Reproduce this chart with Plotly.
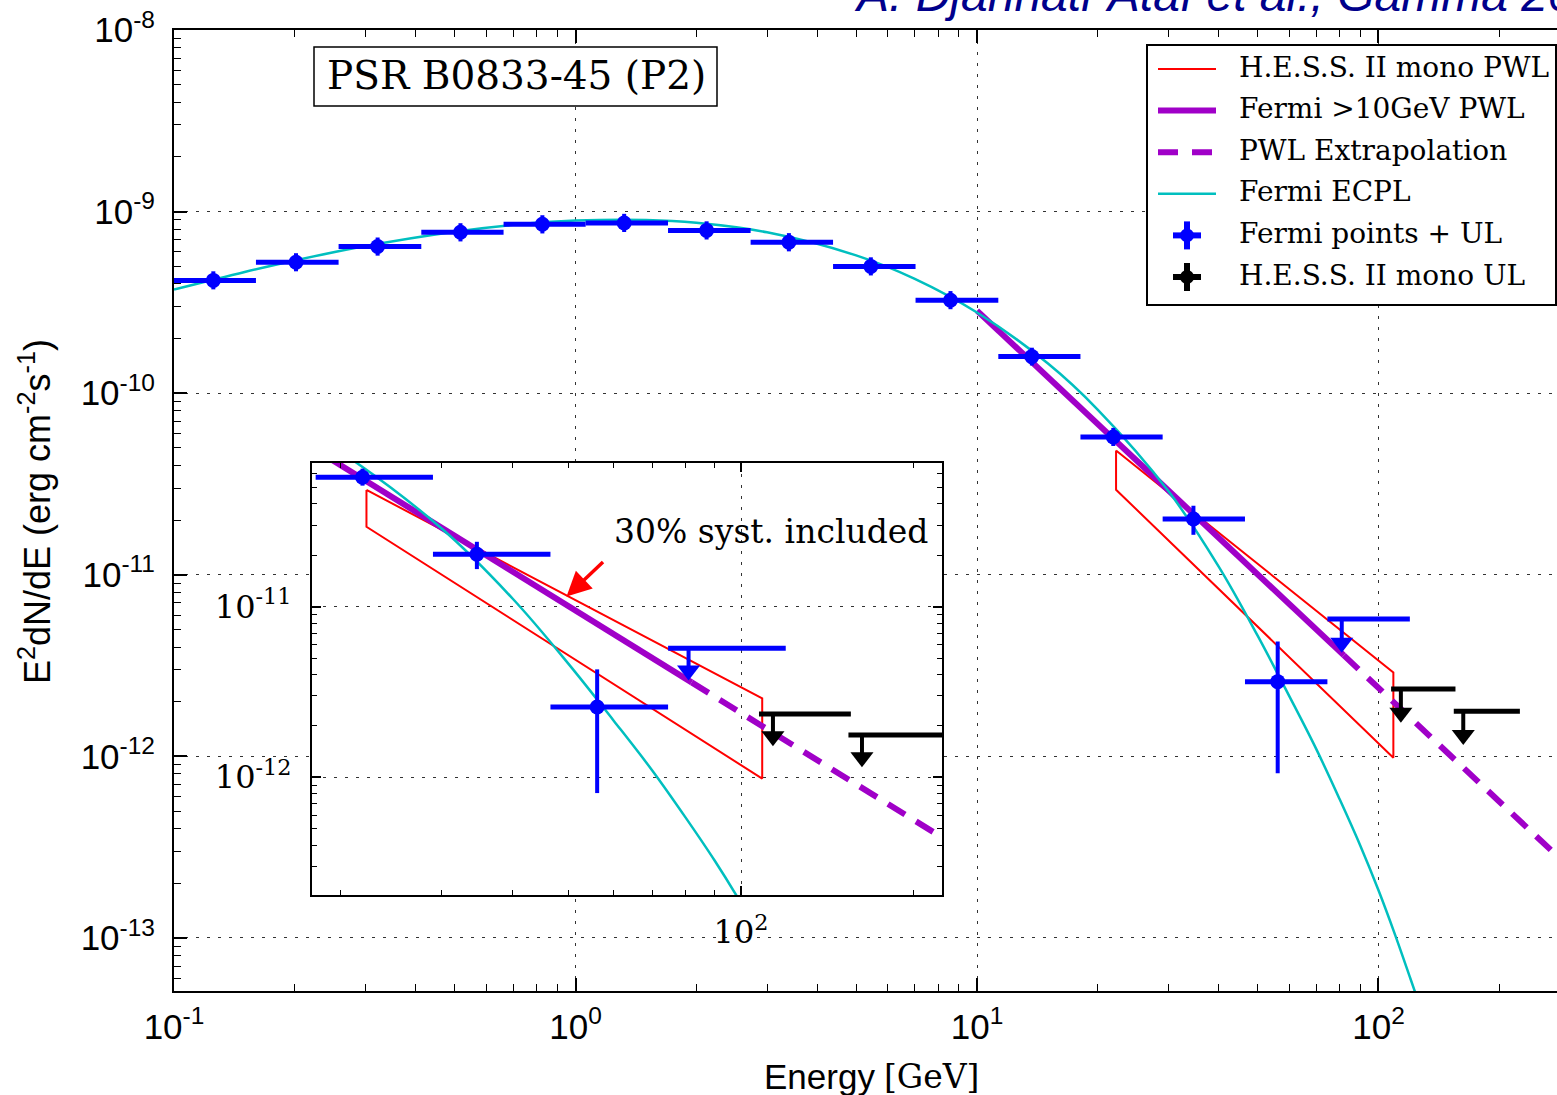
import math
import plotly.graph_objects as go

# ---------------------------------------------------------------------------
# Data
# ---------------------------------------------------------------------------
# Fermi-LAT spectral points: bin centre, bin edges [GeV], E^2 dN/dE and 1-sigma range
fermi_e = [0.1253, 0.2013, 0.3215, 0.517, 0.827, 1.322, 2.121, 3.40, 5.44, 8.59, 13.7, 21.85, 34.6, 56.1]
fermi_e_lo = [0.100, 0.160, 0.257, 0.413, 0.662, 1.06, 1.70, 2.73, 4.38, 7.03, 11.3, 18.1, 29.0, 46.5]
fermi_e_hi = [0.160, 0.257, 0.413, 0.662, 1.06, 1.70, 2.73, 4.38, 7.03, 11.3, 18.1, 29.0, 46.5, 74.6]
fermi_f = [4.18e-10, 5.26e-10, 6.42e-10, 7.69e-10, 8.51e-10, 8.66e-10, 7.88e-10,
           6.78e-10, 4.99e-10, 3.25e-10, 1.59e-10, 5.74e-11, 2.03e-11, 2.58e-12]
fermi_f_hi = [4.69e-10, 5.90e-10, 7.20e-10, 8.63e-10, 9.55e-10, 9.72e-10, 8.84e-10,
              7.61e-10, 5.60e-10, 3.65e-10, 1.78e-10, 6.44e-11, 2.40e-11, 4.29e-12]
fermi_f_lo = [3.73e-10, 4.69e-10, 5.72e-10, 6.85e-10, 7.58e-10, 7.72e-10, 7.02e-10,
              6.04e-10, 4.45e-10, 2.90e-10, 1.42e-10, 5.12e-11, 1.66e-11, 8.08e-13]

# Fermi-LAT upper limit in the last bin
fermi_ul_e = [81.0]
fermi_ul_e_lo = [74.6]
fermi_ul_e_hi = [119.7]
fermi_ul_f = [5.70e-12]

# H.E.S.S. II mono upper limits
hess_ul_e = [113.7, 162.6]
hess_ul_e_lo = [107.5, 154.0]
hess_ul_e_hi = [155.5, 225.0]
hess_ul_f = [2.35e-12, 1.77e-12]

# Fermi ECPL model curve
ecpl_e = [0.1, 0.15, 0.2, 0.3, 0.5, 0.7, 1.0, 1.5, 2.0, 3.0, 5.0, 7.0, 10, 15, 20,
          30, 40, 50, 60, 70, 80, 90, 100, 110, 120, 130]
ecpl_f = [3.72e-10, 4.65e-10, 5.38e-10, 6.46e-10, 7.75e-10, 8.45e-10, 8.92e-10, 8.99e-10,
          8.67e-10, 7.69e-10, 5.74e-10, 4.26e-10, 2.78e-10, 1.46e-10, 8.10e-11, 2.88e-11,
          1.109e-11, 4.62e-12, 2.14e-12, 1.096e-12, 5.82e-13, 3.24e-13, 1.83e-13,
          1.04e-13, 6.0e-14, 3.6e-14]

# Fermi >10 GeV power law and its extrapolation
pwl_e = [10.0, 82.0]
pwl_f = [2.85e-10, 3.60e-12]
pwl_ext_e = [82.0, 280.0]
pwl_ext_f = [3.60e-12, 2.80e-13]

# H.E.S.S. II mono PWL butterfly (30% systematics included)
bfly_e = [22.2, 108.9, 108.9, 22.2, 22.2]
bfly_f = [4.83e-11, 2.90e-12, 9.82e-13, 2.94e-11, 4.83e-11]

legend_labels = ["H.E.S.S. II mono PWL", "Fermi >10GeV PWL", "PWL Extrapolation",
                 "Fermi ECPL", "Fermi points + UL", "H.E.S.S. II mono UL"]

# ---------------------------------------------------------------------------
# Styling
# ---------------------------------------------------------------------------
W, H = 1557, 1095
L, R, T, B = 174, 1557, 30, 991          # main plotting area in pixels
RED = "#FF0000"
PURPLE = "#A000C8"
CYAN = "#00BFBF"
BLUE = "#0000FF"
BLACK = "#000000"
SERIF = "DejaVu Serif, serif"
SANS = "Liberation Sans, Arial, sans-serif"
TICK_SANS = "Liberation Sans Narrow, Liberation Sans, Arial, sans-serif"
UL_ARROW = 0.74                           # arrow head centre relative to the limit value


def px(x):
    return (x - L) / (R - L)


def py(y):
    return (B - y) / (B - T)


X_RANGE = [-1.0, 2.4446]
Y_RANGE = [-13.292, -8.0]
X2_RANGE = [1.2513, 2.3508]
Y2_RANGE = [-12.690, -10.158]

fig = go.Figure()


def add_traces(xa, ya):
    common = dict(xaxis=xa, yaxis=ya, showlegend=False, hoverinfo="skip")
    # butterfly
    fig.add_trace(go.Scatter(x=bfly_e, y=bfly_f, mode="lines",
                             line=dict(color=RED, width=2), **common))
    # power law + extrapolation
    fig.add_trace(go.Scatter(x=pwl_e, y=pwl_f, mode="lines",
                             line=dict(color=PURPLE, width=6), **common))
    fig.add_trace(go.Scatter(x=pwl_ext_e, y=pwl_ext_f, mode="lines",
                             line=dict(color=PURPLE, width=6, dash="20px,13px"), **common))
    # ECPL
    fig.add_trace(go.Scatter(x=ecpl_e, y=ecpl_f, mode="lines", line_shape="spline",
                             line=dict(color=CYAN, width=2.5), **common))
    # Fermi points
    fig.add_trace(go.Scatter(
        x=fermi_e, y=fermi_f, mode="markers",
        marker=dict(color=BLUE, size=15, symbol="circle"),
        error_x=dict(type="data", symmetric=False,
                     array=[h - e for h, e in zip(fermi_e_hi, fermi_e)],
                     arrayminus=[e - l for e, l in zip(fermi_e, fermi_e_lo)],
                     color=BLUE, thickness=5, width=0),
        error_y=dict(type="data", symmetric=False,
                     array=[h - f for h, f in zip(fermi_f_hi, fermi_f)],
                     arrayminus=[f - l for f, l in zip(fermi_f, fermi_f_lo)],
                     color=BLUE, thickness=4, width=0),
        **common))
    # upper limits (bar + stem + arrow head)
    for es, lo, hi, fs, col in [(fermi_ul_e, fermi_ul_e_lo, fermi_ul_e_hi, fermi_ul_f, BLUE),
                                (hess_ul_e, hess_ul_e_lo, hess_ul_e_hi, hess_ul_f, BLACK)]:
        fig.add_trace(go.Scatter(
            x=es, y=fs, mode="markers",
            marker=dict(color="rgba(0,0,0,0)", size=1),
            error_x=dict(type="data", symmetric=False,
                         array=[h - e for h, e in zip(hi, es)],
                         arrayminus=[e - l for e, l in zip(es, lo)],
                         color=col, thickness=5, width=0),
            error_y=dict(type="data", symmetric=False,
                         array=[0 for _ in fs],
                         arrayminus=[f * (1 - UL_ARROW) for f in fs],
                         color=col, thickness=4, width=0),
            **common))
        fig.add_trace(go.Scatter(
            x=es, y=[f * UL_ARROW for f in fs], mode="markers",
            marker=dict(color=col, size=20, symbol="triangle-down", line=dict(width=0)),
            **common))


add_traces("x", "y")
add_traces("x2", "y2")


def minor_vals(lo_exp, hi_exp):
    return [k * 10.0 ** n for n in range(lo_exp, hi_exp) for k in range(2, 10)]


grid = dict(showgrid=True, gridcolor="#333333", gridwidth=1.2, griddash="3px,8px")
frame = dict(showline=True, linecolor=BLACK, linewidth=2, ticks="inside",
             tickcolor=BLACK, tickwidth=1.5, zeroline=False)

fig.update_layout(
    width=W, height=H,
    margin=dict(l=L, r=W - R, t=T, b=H - B),
    paper_bgcolor="white", plot_bgcolor="white",
    showlegend=False,
    xaxis=dict(type="log", range=X_RANGE, domain=[0, 1], anchor="y",
               tickvals=[0.1, 1, 10, 100],
               ticktext=["10<sup>-1</sup>", "10<sup>0</sup>", "10<sup>1</sup>", "10<sup>2</sup>"],
               ticklen=13, mirror="ticks", ticklabelstandoff=4,
               tickfont=dict(family=TICK_SANS, size=35, color=BLACK),
               minor=dict(tickvals=minor_vals(-1, 3), ticks="inside", ticklen=7,
                          tickcolor=BLACK, tickwidth=1.2, showgrid=False),
               **grid, **frame),
    yaxis=dict(type="log", range=Y_RANGE, domain=[0, 1], anchor="x",
               tickvals=[1e-13, 1e-12, 1e-11, 1e-10, 1e-9, 1e-8],
               ticktext=["10<sup>-13</sup>", "10<sup>-12</sup>", "10<sup>-11</sup>",
                         "10<sup>-10</sup>", "10<sup>-9</sup>", "10<sup>-8</sup>"],
               ticklen=13, mirror=False, ticklabelstandoff=10,
               tickfont=dict(family=TICK_SANS, size=35, color=BLACK),
               minor=dict(tickvals=minor_vals(-14, -8), ticks="inside", ticklen=7,
                          tickcolor=BLACK, tickwidth=1.2, showgrid=False),
               **grid, **frame),
    xaxis2=dict(type="log", range=X2_RANGE, domain=[px(312), px(942)], anchor="y2",
                tickvals=[100], ticktext=["10<sup>2</sup>"],
                ticklen=9, mirror="allticks", ticklabelstandoff=8,
                tickfont=dict(family=SERIF, size=32, color=BLACK),
                minor=dict(tickvals=minor_vals(1, 3), ticks="inside", ticklen=5,
                           tickcolor=BLACK, tickwidth=1.2, showgrid=False),
                **grid, **frame),
    yaxis2=dict(type="log", range=Y2_RANGE, domain=[py(895), py(463)], anchor="x2",
                tickvals=[1e-12, 1e-11], ticktext=["10<sup>-12</sup>", "10<sup>-11</sup>"],
                ticklen=9, mirror="allticks", ticklabelstandoff=12,
                tickfont=dict(family=SERIF, size=32, color=BLACK),
                minor=dict(tickvals=minor_vals(-13, -10), ticks="inside", ticklen=5,
                           tickcolor=BLACK, tickwidth=1.2, showgrid=False),
                **grid, **frame),
)

shapes = []
# white background of the inset, drawn inside the inset subplot so it hides the main traces
shapes.append(dict(type="rect", xref="x2", yref="y2", layer="below",
                   x0=X2_RANGE[0], x1=X2_RANGE[1], y0=Y2_RANGE[0], y1=Y2_RANGE[1],
                   fillcolor="white", line=dict(width=0)))
# source label box
shapes.append(dict(type="rect", xref="paper", yref="paper", layer="above",
                   x0=px(314), x1=px(717), y0=py(106), y1=py(47),
                   fillcolor="white", line=dict(color=BLACK, width=1.5)))
# legend frame
shapes.append(dict(type="rect", xref="paper", yref="paper", layer="above",
                   x0=px(1147), x1=px(1556), y0=py(305), y1=py(45),
                   fillcolor="white", line=dict(color=BLACK, width=2)))

rows = [67, 108.6, 150.2, 191.8, 233.4, 275]
line_samples = [(RED, 2, "solid"), (PURPLE, 6, "solid"), (PURPLE, 6, "20px,14px"), (CYAN, 2.5, "solid")]
for (col, wd, dash), yc in zip(line_samples, rows[:4]):
    shapes.append(dict(type="line", xref="paper", yref="paper", layer="above",
                       x0=px(1158), x1=px(1216), y0=py(yc + 2), y1=py(yc + 2),
                       line=dict(color=col, width=wd, dash=dash)))
for col, yc in [(BLUE, rows[4] + 2), (BLACK, rows[5] + 2)]:
    cx = 1187
    shapes.append(dict(type="line", xref="paper", yref="paper", layer="above",
                       x0=px(cx - 14), x1=px(cx + 14), y0=py(yc), y1=py(yc),
                       line=dict(color=col, width=6)))
    shapes.append(dict(type="line", xref="paper", yref="paper", layer="above",
                       x0=px(cx), x1=px(cx), y0=py(yc - 14), y1=py(yc + 14),
                       line=dict(color=col, width=6)))
    shapes.append(dict(type="circle", xref="paper", yref="paper", layer="above",
                       x0=px(cx - 7), x1=px(cx + 7), y0=py(yc + 7), y1=py(yc - 7),
                       fillcolor=col, line=dict(color=col, width=0)))
fig.update_layout(shapes=shapes)

annotations = []
for label, yc in zip(legend_labels, rows):
    annotations.append(dict(xref="paper", yref="paper", x=px(1237), y=py(yc),
                            xanchor="left", yanchor="middle", showarrow=False,
                            text=label, font=dict(family=SERIF, size=28, color=BLACK)))
annotations += [
    dict(xref="paper", yref="paper", x=px(516), y=py(75), xanchor="center", yanchor="middle",
         showarrow=False, text="PSR B0833-45 (P2)", font=dict(family=SERIF, size=39, color=BLACK)),
    dict(xref="paper", yref="paper", x=px(612), y=py(531), xanchor="left", yanchor="middle",
         showarrow=False, text="30% syst. included", font=dict(family=SERIF, size=33, color=BLACK)),
    dict(xref="x2", yref="y2", x=math.log10(49.6), y=math.log10(1.146e-11), text="",
         showarrow=True, arrowhead=2, arrowsize=1.4, arrowwidth=3.5, arrowcolor=RED,
         ax=38, ay=-36, standoff=0),
    dict(xref="paper", yref="paper", x=px(877), y=py(1076), xanchor="right", yanchor="middle",
         showarrow=False, text="Energy", font=dict(family=SANS, size=35, color=BLACK)),
    dict(xref="paper", yref="paper", x=px(882), y=py(1076), xanchor="left", yanchor="middle",
         showarrow=False, text="[GeV]", font=dict(family=SERIF, size=33, color=BLACK)),
    dict(xref="paper", yref="paper", x=px(35), y=py(512), xanchor="center", yanchor="middle",
         showarrow=False, textangle=-90,
         text="E<sup>2</sup>dN/dE (erg cm<sup>-2</sup>s<sup>-1</sup>)",
         font=dict(family=SANS, size=36, color=BLACK)),
    dict(xref="paper", yref="paper", x=px(852), y=py(23), xanchor="left", yanchor="bottom",
         showarrow=False, text="<i>A. Djannati-Ataï et al., Gamma 2016</i>",
         font=dict(family=SANS, size=48, color="#00008B")),
]
fig.update_layout(annotations=annotations)

fig.write_html("out.html", config={"displayModeBar": False})
